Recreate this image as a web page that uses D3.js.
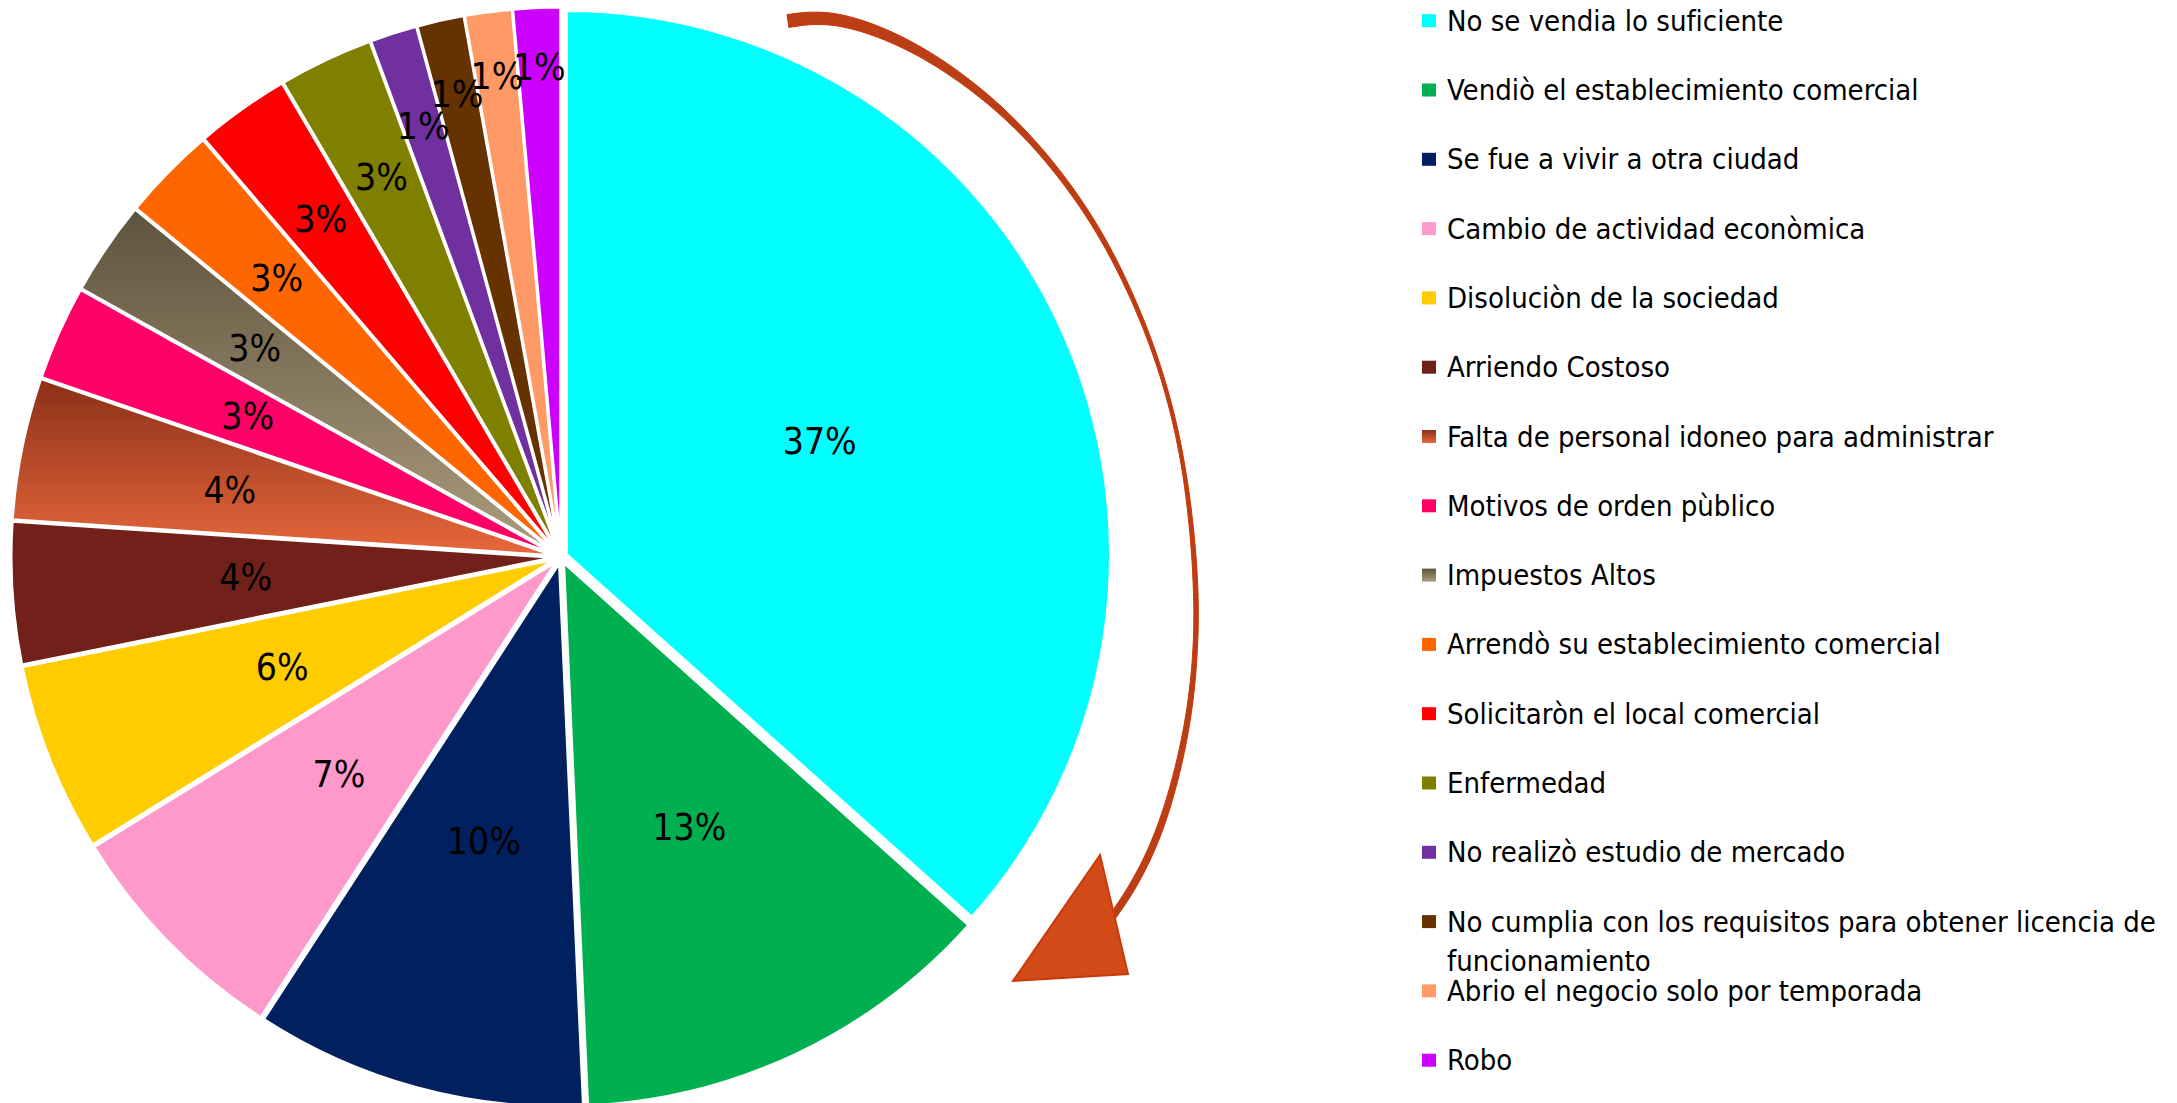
<!DOCTYPE html>
<html lang="es">
<head>
<meta charset="UTF-8">
<script src="https://d3js.org/d3.v7.min.js"></script>
<title>Motivos de cierre</title>
<style>
  html, body { margin: 0; padding: 0; background: #fff; }
  svg { display: block; }
  text { font-family: "Liberation Sans Narrow", "Arial Narrow", "DejaVu Sans Condensed", "Liberation Sans", sans-serif; fill: #000; }
</style>
</head>
<body>
<svg id="chart" width="2177" height="1103"></svg>
<script>
// categories in slice order (clockwise from 12 o'clock)
const categories = [
  "No se vendia lo suficiente",
  "Vendiò el establecimiento comercial",
  "Se fue a vivir a otra ciudad",
  "Cambio de actividad econòmica",
  "Disoluciòn de la sociedad",
  "Arriendo Costoso",
  "Falta de personal idoneo para administrar",
  "Motivos de orden pùblico",
  "Impuestos Altos",
  "Arrendò su establecimiento comercial",
  "Solicitaròn el local comercial",
  "Enfermedad",
  "No realizò estudio de mercado",
  "No cumplia con los requisitos para obtener licencia de funcionamiento",
  "Abrio el negocio solo por temporada",
  "Robo"
];
// number of answers per reason (71 in total)
const counts = [26, 9, 7, 5, 4, 3, 3, 2, 2, 2, 2, 2, 1, 1, 1, 1];

// slice colours; two slices use a top-to-bottom gradient
const sliceColors = [
  "#00FFFF", "#00B050", "#002060", "#FF99CC", "#FFCC00", "#71201A",
  "url(#gFalta)", "#FF0066", "url(#gImp)", "#FF6600", "#FF0000",
  "#808000", "#7030A0", "#663300", "#FF9966", "#CC00FF"
];
// where Excel put each percentage label, as a share of the radius
const labelRadius = [0.51, 0.54, 0.53, 0.56, 0.54, 0.57, 0.61, 0.62,
                     0.67, 0.72, 0.75, 0.76, 0.82, 0.86, 0.88, 0.89];

const cx = 561, cy = 557, R = 544, explode = 6;

const svg = d3.select("#chart");
const defs = svg.append("defs");

function vGrad(id, top, bottom) {
  const g = defs.append("linearGradient").attr("id", id)
    .attr("x1", 0).attr("y1", 0).attr("x2", 0).attr("y2", 1);
  g.append("stop").attr("offset", "0%").attr("stop-color", top);
  g.append("stop").attr("offset", "100%").attr("stop-color", bottom);
}
vGrad("gFalta", "#8A3018", "#E8683C");
vGrad("gImp", "#5E533D", "#AC9C7E");

const total = d3.sum(counts);
const pct = d3.format(".0%");

const pie = d3.pie().sort(null).value(d => d);
const arcs = pie(counts);
const arc = d3.arc().innerRadius(0).outerRadius(R);

const g = svg.append("g").attr("transform", `translate(${cx},${cy})`);

const mid = d => (d.startAngle + d.endAngle) / 2;

g.selectAll("path.slice")
  .data(arcs)
  .join("path")
  .attr("class", "slice")
  .attr("d", arc)
  .attr("fill", (d, i) => sliceColors[i])
  .attr("stroke", "#fff")
  .attr("stroke-width", 3)
  .attr("stroke-linejoin", "round")
  .attr("transform", d => `translate(${Math.sin(mid(d)) * explode},${-Math.cos(mid(d)) * explode})`);

g.selectAll("text.lbl")
  .data(arcs)
  .join("text")
  .attr("class", "lbl")
  .attr("x", (d, i) => Math.sin(mid(d)) * (R * labelRadius[i] + explode))
  .attr("y", (d, i) => -Math.cos(mid(d)) * (R * labelRadius[i] + explode))
  .attr("text-anchor", "middle")
  .attr("dominant-baseline", "central")
  .attr("font-size", 37)
  .text(d => pct(d.value / total));

// curved arrow round the big slice: spine points [x, y, thickness]
const spine = [
  [788, 21, 13], [830, 15, 12], [895, 36, 10], [962, 76, 8], [1030, 135, 6],
  [1093, 217, 5], [1135, 300, 4], [1165, 380, 3.5], [1186, 470, 3.5],
  [1197, 580, 4.5], [1196, 660, 4.5], [1186, 740, 5.5],
  [1162, 830, 6.5], [1133, 888, 7], [1110, 920, 7]
];
const guide = svg.append("path")
  .attr("d", d3.line().curve(d3.curveBasis)(spine.map(p => [p[0], p[1]])))
  .attr("fill", "none").attr("stroke", "none");
const gl = guide.node().getTotalLength();
// thickness along the curve, by share of the spine's chord length
const cum = [0];
for (let i = 1; i < spine.length; i++)
  cum.push(cum[i - 1] + Math.hypot(spine[i][0] - spine[i - 1][0], spine[i][1] - spine[i - 1][1]));
const thick = d3.scaleLinear().domain(cum.map(c => c / cum[cum.length - 1])).range(spine.map(p => p[2]));
const n = 240, pts = d3.range(n + 1).map(k => guide.node().getPointAtLength(gl * k / n));
const left = [], right = [];
pts.forEach((p, k) => {
  const a = pts[Math.max(0, k - 1)], b = pts[Math.min(n, k + 1)];
  const dx = b.x - a.x, dy = b.y - a.y, L = Math.hypot(dx, dy) || 1;
  const h = thick(k / n) / 2;
  left.push([p.x - dy / L * h, p.y + dx / L * h]);
  right.push([p.x + dy / L * h, p.y - dx / L * h]);
});
svg.append("path")
  .attr("d", d3.line()(left.concat(right.reverse())) + "Z")
  .attr("fill", "#BA3E16")
  .attr("stroke", "#CC3300")
  .attr("stroke-width", 1);

svg.append("path")
  .attr("d", d3.line()([[1100, 855], [1013, 981], [1128, 974]]) + "Z")
  .attr("fill", "#D24A18")
  .attr("stroke", "#C93A0A")
  .attr("stroke-width", 2)
  .attr("stroke-linejoin", "miter");

// legend
const lx = 1422, ly0 = 20.7, lstep = 69.3, maxW = 715;
const legend = svg.append("g");
categories.forEach((c, i) => {
  const y = ly0 + i * lstep;
  legend.append("rect")
    .attr("x", lx).attr("y", y - 6.5)
    .attr("width", 14).attr("height", 13)
    .attr("fill", sliceColors[i]);
  const t = legend.append("text")
    .attr("x", lx + 25).attr("y", y)
    .attr("dominant-baseline", "central")
    .attr("font-size", 29);
  // simple word wrap
  const words = c.split(" ");
  let line = [], ts = t.append("tspan").attr("x", lx + 25).attr("y", y), row = 0;
  words.forEach(w => {
    line.push(w);
    ts.text(line.join(" "));
    if (ts.node().getComputedTextLength() > maxW && line.length > 1) {
      line.pop();
      ts.text(line.join(" "));
      line = [w];
      row++;
      ts = t.append("tspan").attr("x", lx + 25).attr("y", y + row * 39).text(w);
    }
  });
});
</script>
</body>
</html>
